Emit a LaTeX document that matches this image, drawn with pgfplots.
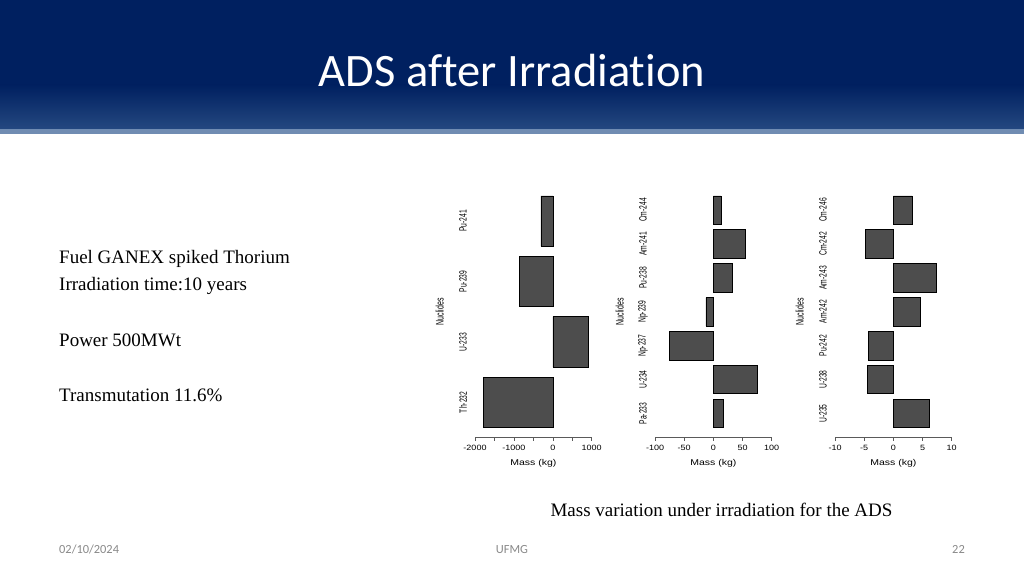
\documentclass[border=0pt]{standalone}
\usepackage{pgfplots}
\pgfplotsset{compat=1.18}
\usepackage{graphicx}
\usepackage{fontspec}
\setmainfont{Liberation Sans}
\newfontfamily\calib[Ligatures=NoCommon]{Carlito}
\newfontfamily\tnr{Liberation Serif}

\definecolor{navy}{RGB}{0,32,96}
\definecolor{navylow}{RGB}{36,72,128}
\definecolor{band}{RGB}{112,140,178}
\definecolor{barfill}{RGB}{77,77,77}
\definecolor{axgray}{RGB}{90,90,90}
\definecolor{foot}{RGB}{137,137,137}

% R output looks squeezed vertically, so the labels are squeezed too
\newcommand{\yl}[1]{\scalebox{0.64}[1]{#1}}
\newcommand{\xl}[1]{\scalebox{1}[0.85]{#1}}

\pgfplotsset{nucl/.style={
    scale only axis, width=116.7pt, height=250.4pt, anchor=south west,
    xbar, bar width=1,
    axis x line*=bottom, axis y line*=left,
    x axis line style={-, draw=axgray, line width=0.6pt},
    y axis line style={draw=none},
    tick align=outside, major tick length=4pt,
    xtick style={draw=axgray, line width=0.6pt},
    ytick style={draw=none},
    xticklabel style={font=\fontsize{9}{9}\selectfont, anchor=center, yshift=-7pt},
    yticklabel style={font=\fontsize{10.5}{10}\selectfont, anchor=center, xshift=-8pt, rotate=90},
    xlabel={\scalebox{1}[0.8]{Mass (kg)}},
    xlabel style={font=\fontsize{10.5}{11}\selectfont, at={(axis description cs:0.5,-0.105)}, anchor=center},
    ylabel={\yl{Nuclides}},
    ylabel style={font=\fontsize{11}{11}\selectfont, at={(axis description cs:-0.303,0.5)}, anchor=center},
}}

\begin{document}
\begin{tikzpicture}[x=1pt,y=1pt]
\useasboundingbox (0,0) rectangle (1024,576);
\fill[white] (0,0) rectangle (1024,576);
% header
\fill[navy] (0,576) rectangle (1024,491);
\shade[top color=navy, bottom color=navylow] (0,491) rectangle (1024,447);
\fill[band] (0,447) rectangle (1024,442);
\node[text=white, font=\calib\fontsize{46.5}{46}\selectfont, anchor=base, inner sep=0] at (512,489) {ADS after Irradiation};

% left text
\begin{scope}[every node/.style={anchor=base west, inner sep=0, font=\tnr\fontsize{19}{19}\selectfont}]
\node at (59,312.7) {Fuel GANEX spiked Thorium};
\node at (59,285.3) {Irradiation time:10 years};
\node at (59,230) {Power 500MWt};
\node at (59,174.3) {Transmutation 11.6\%};
\end{scope}

% chart 1
\begin{axis}[nucl, at={(475pt,139.1pt)},
    xmin=-2000, xmax=1000, ymin=0.016, ymax=4.984,
    xtick={-2000,-1500,...,1000},
    xticklabels={\xl{-2000},,\xl{-1000},,\xl{0},,\xl{1000}},
    ytick={0.7,1.9,3.1,4.3},
    yticklabels={\yl{Th-232},\yl{U-233},\yl{Pu-239},\yl{Pu-241}}]
\addplot[fill=barfill, draw=black, line width=0.5pt] coordinates {
    (-1779,0.7) (913,1.9) (-856,3.1) (-308,4.3)};
\end{axis}

% chart 2
\begin{axis}[nucl, at={(655pt,139.1pt)},
    xmin=-100, xmax=100, ymin=-0.128, ymax=8.728,
    xtick={-100,-50,...,100},
    xticklabels={\xl{-100},\xl{-50},\xl{0},\xl{50},\xl{100}},
    ytick={0.7,1.9,3.1,4.3,5.5,6.7,7.9},
    yticklabels={\yl{Pa-233},\yl{U-234},\yl{Np-237},\yl{Np-239},\yl{Pu-238},\yl{Am-241},\yl{Cm-244}}]
\addplot[fill=barfill, draw=black, line width=0.5pt] coordinates {
    (17.8,0.7) (75.5,1.9) (-76,3.1) (-13,4.3) (32,5.5) (54.3,6.7) (12.7,7.9)};
\end{axis}

% chart 3
\begin{axis}[nucl, at={(835pt,139.1pt)},
    xmin=-10, xmax=10, ymin=-0.128, ymax=8.728,
    xtick={-10,-5,...,10},
    xticklabels={\xl{-10},\xl{-5},\xl{0},\xl{5},\xl{10}},
    ytick={0.7,1.9,3.1,4.3,5.5,6.7,7.9},
    yticklabels={\yl{U-235},\yl{U-238},\yl{Pu-242},\yl{Am-242},\yl{Am-243},\yl{Cm-242},\yl{Cm-246}}]
\addplot[fill=barfill, draw=black, line width=0.5pt] coordinates {
    (6.12,0.7) (-4.45,1.9) (-4.28,3.1) (4.64,4.3) (7.27,5.5) (-4.85,6.7) (3.2,7.9)};
\end{axis}

% caption and footer
\node[anchor=base, inner sep=0, font=\tnr\fontsize{19}{19}\selectfont] at (721.5,60) {Mass variation under irradiation for the ADS};
\begin{scope}[every node/.style={inner sep=0, text=foot, font=\calib\fontsize{12.4}{12}\selectfont}]
\node[anchor=base west] at (59,23) {02/10/2024};
\node[anchor=base] at (512,23) {UFMG};
\node[anchor=base east] at (965,23) {22};
\end{scope}
\end{tikzpicture}
\end{document}
